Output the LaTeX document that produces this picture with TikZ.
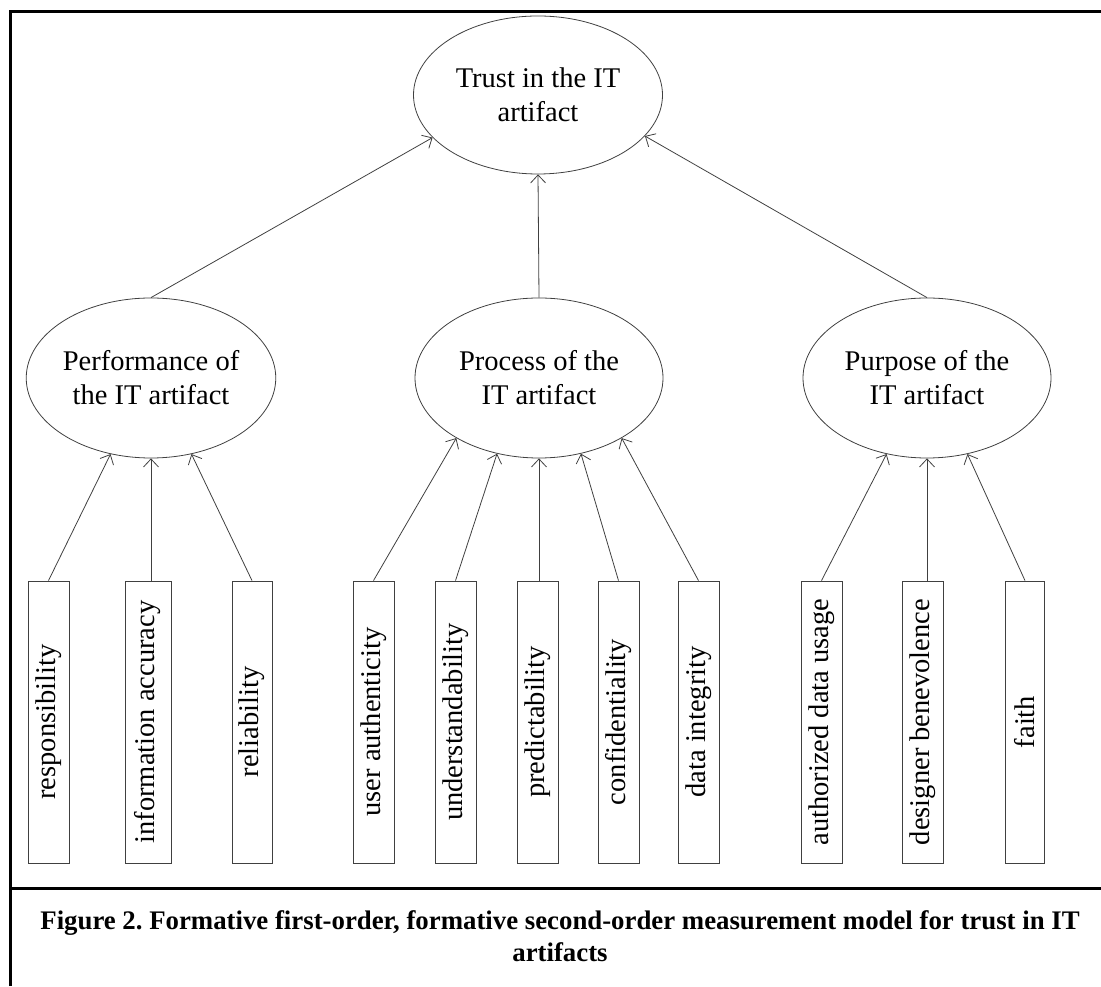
\documentclass[tikz,border=0pt]{standalone}
\usepackage{fontspec}
\setmainfont{Liberation Serif}
\usepackage{graphicx}
\usepackage{tikz}
\usetikzlibrary{shapes.geometric}
\usetikzlibrary{positioning}
\usetikzlibrary{arrows.meta}
\tikzset{factor/.style={ellipse,draw=black!75,line width=0.8pt,minimum width=248pt,minimum height=160pt,inner sep=0pt,align=center},
indic/.style={draw=black!75,line width=0.8pt,minimum width=41pt,minimum height=282pt,inner sep=0pt},
arr/.style={-{Straight Barb[length=8pt,width=15pt]},draw=black!75,line width=0.8pt},
frame/.style={line width=3pt}}
\begin{document}
\begin{tikzpicture}[x=1pt,y=1pt,font=\fontsize{28.5}{34}\selectfont]
\useasboundingbox (0,0) rectangle (1101,986);
\draw[frame] (10.5,0) -- (10.5,974) -- (1101,974);
\draw[frame] (10.5,97) -- (1101,97);

\node (trust) at (538,891) [factor,minimum width=249pt,minimum height=158pt] {Trust in the IT\\artifact};
\node (proc) at (539,608) [factor] {Process of the\\IT artifact};
\node (perf) [left of = proc, node distance = 388pt, factor] {Performance of\\the IT artifact};
\node (purp) [right of = proc, node distance = 388pt, factor] {Purpose of the\\IT artifact};
\draw[arr] (perf.north) -- (trust.202);
\draw[arr] (proc.north) -- (trust.south);
\draw[arr] (purp.north) -- (trust.339);

\foreach \x/\w/\t [count=\i] in {48.5/41/responsibility, 148/46/information accuracy, 252/40/reliability,
373.5/41/user authenticity, 455.5/41/understandability, 537.5/41/predictability, 618.5/41/confidentiality, 698.5/41/data integrity,
821.5/41/authorized data usage, 922.5/41/designer benevolence, 1025/39/faith} {
\node (ind\i) at (\x,264) [indic, minimum width=\w pt] {\rotatebox{90}{\t}};
}
\foreach \i/\f/\a in {1/perf/242, 3/perf/298,
4/proc/216, 5/proc/241, 7/proc/299, 8/proc/324,
9/purp/242, 11/purp/298} {
\draw[arr] (ind\i.north) -- (\f.\a);
}
% straight ones
\foreach \i/\f in {2/perf, 6/proc, 10/purp} {
\draw[arr] (\f.south |- ind\i.north) -- (\f.south);
}

\node (cap) at (560,50) [align=center,font=\fontsize{26.8}{32}\selectfont\bfseries\frenchspacing] {Figure 2. Formative first-order, formative second-order measurement model for trust in IT\\artifacts};
\end{tikzpicture}
\end{document}
